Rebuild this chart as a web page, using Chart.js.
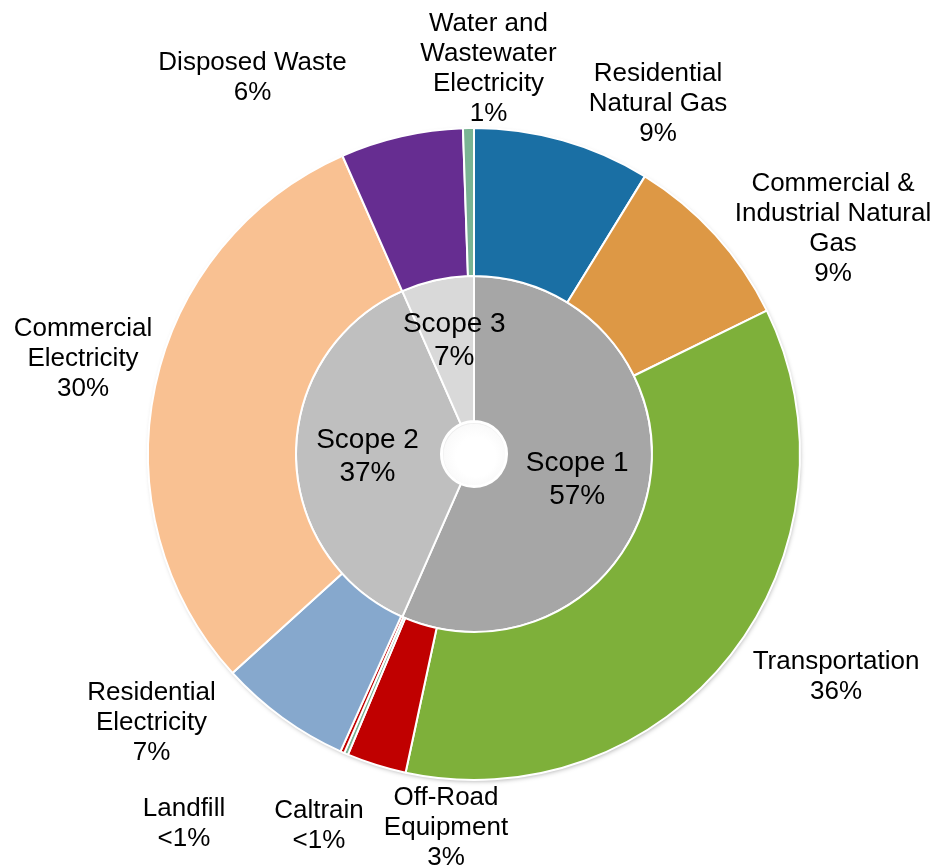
<!DOCTYPE html>
<html>
<head>
<meta charset="utf-8">
<script src="https://cdn.jsdelivr.net/npm/chart.js@4.4.1/dist/chart.umd.min.js"></script>
<style>
  html, body { margin: 0; padding: 0; background: #ffffff; }
  #wrap { width: 936px; height: 867px; position: relative; }
</style>
</head>
<body>
<div id="wrap"><canvas id="c" width="936" height="867"></canvas></div>
<script>
// ---- Data ----
const categories = [
  'Residential Natural Gas',
  'Commercial & Industrial Natural Gas',
  'Transportation',
  'Off-Road Equipment',
  'Caltrain',
  'Landfill',
  'Residential Electricity',
  'Commercial Electricity',
  'Disposed Waste',
  'Water and Wastewater Electricity'
];
const categoryValues = [8.78, 8.97, 35.6, 2.95, 0.2, 0.2, 6.56, 30.1, 6.07, 0.54];
const categoryLines = [
  ['Residential', 'Natural Gas'],
  ['Commercial &', 'Industrial Natural', 'Gas'],
  ['Transportation'],
  ['Off-Road', 'Equipment'],
  ['Caltrain'],
  ['Landfill'],
  ['Residential', 'Electricity'],
  ['Commercial', 'Electricity'],
  ['Disposed Waste'],
  ['Water and', 'Wastewater', 'Electricity']
];
const scopes = ['Scope 1', 'Scope 2', 'Scope 3'];
const scopeValues = [56.6, 36.8, 6.6];

// ---- Styles ----
const categoryColors = ['#1A6FA4', '#DD9845', '#7EB03A', '#C00000', '#7AB494', '#C00000',
                        '#86A8CD', '#F9C192', '#662D91', '#7AB494'];
const scopeColors = ['#A6A6A6', '#BFBFBF', '#D9D9D9'];
// label block centres relative to chart centre (px)
const outerLabelOffsets = [[184, -353.5], [359, -228], [362, 220], [-28, 371], [-155, 369],
                           [-290, 366.5], [-322.5, 265.5], [-391, -98.5], [-221.5, -379], [14.5, -388]];
const innerLabelNudges = [[0, 1], [-1, 0], [2, -13]];
const textYShift = 3;

function pctText(v) {
  const r = Math.round(v);
  return r < 1 ? '<1%' : r + '%';
}

const shadowPlugin = {
  id: 'ringShadow',
  beforeDatasetsDraw(chart) {
    const meta = chart.getDatasetMeta(0);
    const a = meta.data[0];
    if (!a) return;
    const ctx = chart.ctx;
    ctx.save();
    ctx.beginPath();
    ctx.arc(a.x, a.y, a.outerRadius - 1, 0, Math.PI * 2);
    ctx.shadowColor = 'rgba(0,0,0,0.35)';
    ctx.shadowBlur = 5;
    ctx.shadowOffsetX = 1;
    ctx.shadowOffsetY = 2;
    ctx.fillStyle = '#ffffff';
    ctx.fill();
    ctx.restore();
  },
  afterDatasetsDraw(chart) {
    const meta = chart.getDatasetMeta(1);
    const a = meta.data[0];
    if (!a) return;
    const ctx = chart.ctx;
    const r = a.innerRadius;
    ctx.save();
    const g = ctx.createRadialGradient(a.x + 2, a.y + 3, r * 0.6, a.x, a.y, r);
    g.addColorStop(0, 'rgba(255,255,255,1)');
    g.addColorStop(0.8, 'rgba(250,250,250,1)');
    g.addColorStop(1, 'rgba(205,205,205,1)');
    ctx.beginPath();
    ctx.arc(a.x, a.y, r - 1, 0, Math.PI * 2);
    ctx.fillStyle = g;
    ctx.fill();
    ctx.lineWidth = 2;
    ctx.strokeStyle = '#ffffff';
    ctx.stroke();
    ctx.restore();
  }
};

const labelPlugin = {
  id: 'sliceLabels',
  afterDraw(chart) {
    const ctx = chart.ctx;
    const outerMeta = chart.getDatasetMeta(0);
    const innerMeta = chart.getDatasetMeta(1);
    const cx = outerMeta.data[0].x, cy = outerMeta.data[0].y;
    ctx.save();
    ctx.fillStyle = '#000000';
    ctx.textAlign = 'center';
    ctx.textBaseline = 'middle';
    // outer labels
    ctx.font = '26px "Liberation Sans", Arial, sans-serif';
    const lh = 30;
    categories.forEach((name, i) => {
      const lines = categoryLines[i].concat([pctText(categoryValues[i])]);
      const bx = cx + outerLabelOffsets[i][0];
      const by = cy + outerLabelOffsets[i][1] + textYShift;
      lines.forEach((t, k) => {
        ctx.fillText(t, bx, by + (k - (lines.length - 1) / 2) * lh);
      });
    });
    // inner labels
    ctx.font = '28px "Liberation Sans", Arial, sans-serif';
    const lh2 = 33;
    innerMeta.data.forEach((arc, i) => {
      const p = arc.tooltipPosition();
      const lines = [scopes[i], pctText(scopeValues[i])];
      const bx = p.x + innerLabelNudges[i][0];
      const by = p.y + innerLabelNudges[i][1] + textYShift;
      lines.forEach((t, k) => {
        ctx.fillText(t, bx, by + (k - (lines.length - 1) / 2) * lh2);
      });
    });
    ctx.restore();
  }
};

new Chart(document.getElementById('c'), {
  type: 'doughnut',
  data: {
    labels: categories,
    datasets: [
      {
        label: 'Sources',
        data: categoryValues,
        backgroundColor: categoryColors,
        borderColor: '#ffffff',
        borderWidth: 2,
        weight: 148
      },
      {
        label: 'Scopes',
        data: scopeValues,
        backgroundColor: scopeColors,
        borderColor: '#ffffff',
        borderWidth: 2,
        weight: 145
      }
    ]
  },
  options: {
    responsive: false,
    animation: false,
    cutout: 33,
    layout: { padding: { left: 147, right: 135, top: 127, bottom: 86 } },
    plugins: {
      legend: { display: false },
      tooltip: { enabled: false }
    }
  },
  plugins: [shadowPlugin, labelPlugin]
});
</script>
</body>
</html>
